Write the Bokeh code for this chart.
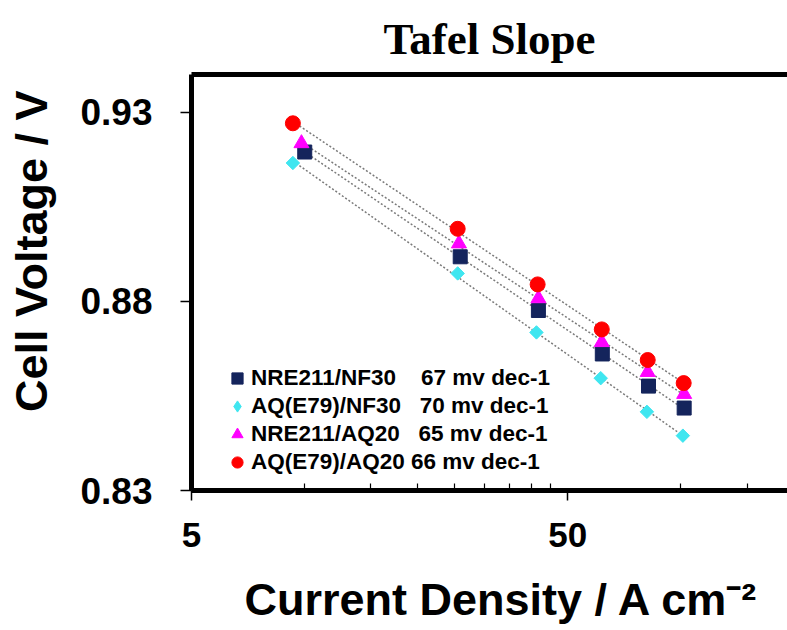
import numpy as np
from bokeh.plotting import figure
from bokeh.models import Range1d, FixedTicker, LogAxis, Legend, LegendItem
from bokeh.embed import file_html
from bokeh.resources import INLINE

# ---------------- data ----------------
title_text = "Tafel Slope"
series_names = ["NRE211/NF30", "AQ(E79)/NF30", "NRE211/AQ20", "AQ(E79)/AQ20"]
slope_texts = ["67 mv dec-1", "70 mv dec-1", "65 mv dec-1", "66 mv dec-1"]

x_nre_nf30 = [10.0, 25.9, 41.8, 61.8, 82.0, 102.0]
y_nre_nf30 = [0.9195, 0.8918, 0.8776, 0.8661, 0.8576, 0.8518]

x_aq_nf30 = [9.3, 25.5, 41.3, 61.2, 81.2, 101.2]
y_aq_nf30 = [0.9166, 0.8874, 0.8718, 0.8597, 0.8508, 0.8445]

x_nre_aq20 = [9.8, 25.7, 41.8, 61.6, 81.6, 102.0]
y_nre_aq20 = [0.9218, 0.8953, 0.8808, 0.8692, 0.8613, 0.8555]

x_aq_aq20 = [9.3, 25.5, 41.6, 61.6, 81.6, 101.7]
y_aq_aq20 = [0.9271, 0.8992, 0.8845, 0.8726, 0.8645, 0.8584]

y_ticks = [0.83, 0.88, 0.93]
y_tick_labels = ["0.83", "0.88", "0.93"]
x_ticks = [5, 50]
x_tick_labels = ["5", "50"]
x_minor_ticks = [10, 15, 20, 25, 30, 35, 40, 45, 100, 150]

# ---------------- style ----------------
xs = [x_nre_nf30, x_aq_nf30, x_nre_aq20, x_aq_aq20]
ys = [y_nre_nf30, y_aq_nf30, y_nre_aq20, y_aq_aq20]
markers = ["square", "square", "triangle", "circle"]
legend_markers = ["square", "diamond", "triangle", "circle"]
angles = [0.0, np.pi / 4, 0.0, 0.0]
colors = ["#14245C", "#3FE6F0", "#FF00FF", "#FF0000"]
sizes = [14, 9.5, 15, 15]
gaps = [4, 3, 3, 1]

SANS = "Liberation Sans"
NB = "\u00a0"

p = figure(width=787, height=630, x_axis_type="log",
           x_range=Range1d(5, 192), y_range=Range1d(0.83, 0.94),
           output_backend="svg", toolbar_location=None,
           min_border_left=191, min_border_right=0,
           min_border_top=73, min_border_bottom=140,
           background_fill_color="white", border_fill_color="white")
p.outline_line_color = None
p.xgrid.visible = False
p.ygrid.visible = False

# title
p.title.text = title_text
p.title.text_font = "Liberation Serif"
p.title.text_font_style = "bold"
p.title.text_font_size = "45px"
p.title.align = "center"
p.title.text_color = "black"
p.title.standoff = 22

# trend lines (least-squares in log10 x), drawn beneath markers
for x, y in zip(xs, ys):
    lx = np.log10(np.array(x))
    k, b = np.polyfit(lx, np.array(y), 1)
    ends = np.array([min(x), max(x)])
    p.line(ends, k * np.log10(ends) + b, line_color="#7A7A7A",
           line_width=1.5, line_dash="2 2")

for x, y, m, a, c, s in zip(xs, ys, markers, angles, colors, sizes):
    p.scatter(x, y, marker=m, angle=a, size=s, fill_color=c, line_color=c)

# legend-only glyph renderers (a single NaN row: nothing drawn in the plot,
# the legend draws their marker style)
legend_renderers = []
for m, c in zip(legend_markers, colors):
    r = p.scatter(x=[np.nan], y=[np.nan], marker=m, size=10,
                  fill_color=c, line_color=c)
    legend_renderers.append(r)

# axes
yax = p.yaxis[0]
yax.ticker = FixedTicker(ticks=y_ticks)
yax.major_label_overrides = {t: l for t, l in zip(y_ticks, y_tick_labels)}
yax.axis_label = NB * 5 + "Cell Voltage / V"

xax = p.xaxis[0]
xax.ticker = FixedTicker(ticks=x_ticks, minor_ticks=x_minor_ticks)
xax.major_label_overrides = {t: l for t, l in zip(x_ticks, x_tick_labels)}
xax.axis_label = NB * 2 + "Current Density / A cm\u207b\u00b2"

for ax in (xax, yax):
    ax.axis_line_width = 5
    ax.axis_line_color = "black"
    ax.major_tick_line_color = "black"
    ax.major_tick_line_width = 1.5
    ax.major_tick_in = 0
    ax.major_label_text_font = SANS
    ax.major_label_text_font_style = "bold"
    ax.major_label_text_color = "black"
    ax.axis_label_text_font = SANS
    ax.axis_label_text_font_style = "bold"
    ax.axis_label_text_color = "black"

yax.major_tick_out = 11
yax.minor_tick_line_color = None
yax.major_label_standoff = 28
yax.major_label_text_font_size = "37px"
yax.axis_label_text_font_size = "45px"
yax.axis_label_standoff = 20

xax.major_tick_out = 10
xax.minor_tick_in = 7
xax.minor_tick_out = 0
xax.minor_tick_line_color = "black"
xax.minor_tick_line_width = 1.2
xax.major_label_standoff = 22
xax.major_label_text_font_size = "35px"
xax.axis_label_text_font_size = "45px"
xax.axis_label_standoff = 24

top = LogAxis(ticker=FixedTicker(ticks=[]), axis_line_width=5,
              axis_line_color="black", major_tick_line_color=None,
              minor_tick_line_color=None, major_label_text_font_size="0px",
              major_label_standoff=0)
p.add_layout(top, "above")

# legend
items = []
for name, sl, g, r in zip(series_names, slope_texts, gaps, legend_renderers):
    items.append(LegendItem(label=name + NB * g + sl, renderers=[r]))
legend = Legend(items=items, location=(32, 14), margin=0, padding=2,
                spacing=0, glyph_width=28, glyph_height=28, label_height=28,
                label_standoff=0, label_text_font=SANS,
                label_text_font_style="bold", label_text_font_size="22.5px",
                label_text_color="black", background_fill_color="white",
                background_fill_alpha=1.0, border_line_color=None)
p.add_layout(legend, "center")

open("out.html", "w").write(file_html(p, INLINE))
